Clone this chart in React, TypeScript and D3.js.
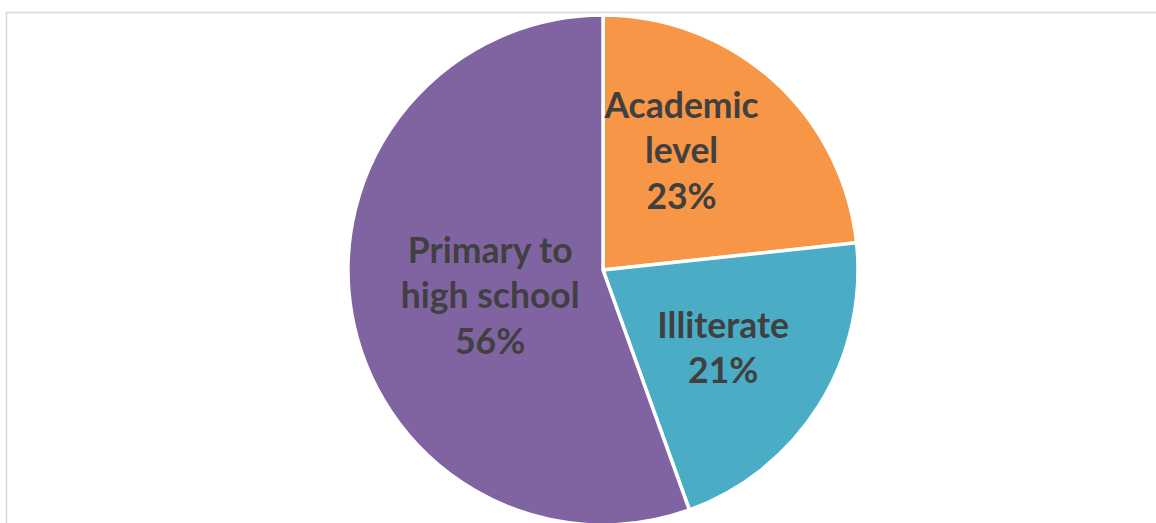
import React from "react";
import * as d3 from "d3";

const categories = ["Academic level", "Illiterate", "Primary to high school"];
const values = [23.3, 21.2, 55.5];
const colors = ["#F79646", "#4BACC6", "#8064A2"];
const labelLines = [["Academic", "level"], ["Illiterate"], ["Primary to", "high school"]];
const labelNudges = [[-17, -13], [-1, 2], [28, 1]];

const W = 1156;
const H = 523;
const cx = 603;
const cy = 270;
const R = 255;
const FONT = 35.5;
const LINE = 45.5;

export default function App() {
  const pie = d3.pie<number>().sort(null).value((d) => d);
  const arcs = pie(values);
  const arc = d3.arc<d3.PieArcDatum<number>>().innerRadius(0).outerRadius(R);
  const labelArc = d3.arc<d3.PieArcDatum<number>>().innerRadius(143).outerRadius(143);
  const total = d3.sum(values);

  return (
    <div style={{ position: "fixed", left: 0, top: 0 }}>
      <svg width={W} height={H} style={{ display: "block" }}>
        <rect x={0} y={0} width={W} height={H} fill="#ffffff" />
        <rect x={6.5} y={12.5} width={W + 20} height={H + 20} fill="none" stroke="#d9d9d9" strokeWidth={1.6} />
        <g transform={`translate(${cx},${cy})`}>
          {arcs.map((a, i) => (
            <path key={categories[i]} d={arc(a) || ""} fill={colors[i]} stroke="#ffffff" strokeWidth={3.5} strokeLinejoin="round" />
          ))}
          {arcs.map((a, i) => {
            const [lx, ly] = labelArc.centroid(a);
            const lines = [...labelLines[i], `${Math.round((values[i] / total) * 100)}%`];
            const x = lx + labelNudges[i][0];
            const y = ly + labelNudges[i][1];
            const top = y - ((lines.length - 1) * LINE) / 2;
            return (
              <text
                key={"l" + i}
                x={x}
                textAnchor="middle"
                fontFamily="Lato, 'Open Sans', sans-serif"
                fontWeight={700}
                fontSize={FONT}
                fill="#404040"
              >
                {lines.map((t, j) => (
                  <tspan key={j} x={x} y={top + j * LINE} dy="0.36em">
                    {t}
                  </tspan>
                ))}
              </text>
            );
          })}
        </g>
      </svg>
    </div>
  );
}
